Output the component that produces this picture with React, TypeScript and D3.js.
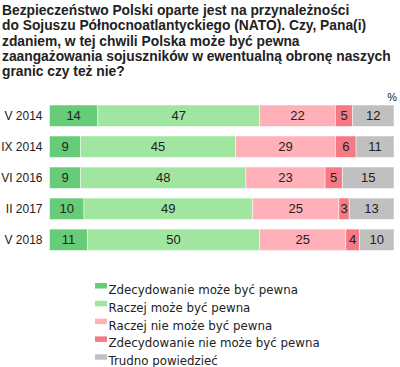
import React, { useEffect, useRef } from 'react';
import * as d3 from 'd3';

const titleLines = [
  'Bezpieczeństwo Polski oparte jest na przynależności',
  'do Sojuszu Północnoatlantyckiego (NATO). Czy, Pana(i)',
  'zdaniem, w tej chwili Polska może być pewna',
  'zaangażowania sojuszników w ewentualną obronę naszych',
  'granic czy też nie?',
];

const categories = ['V 2014', 'IX 2014', 'VI 2016', 'II 2017', 'V 2018'];
const seriesNames = [
  'Zdecydowanie może być pewna',
  'Raczej może być pewna',
  'Raczej nie może być pewna',
  'Zdecydowanie nie może być pewna',
  'Trudno powiedzieć',
];
const definitelyYes = [14, 9, 9, 10, 11];
const ratherYes = [47, 45, 48, 49, 50];
const ratherNo = [22, 29, 23, 25, 25];
const definitelyNo = [5, 6, 5, 3, 4];
const hardToSay = [12, 11, 15, 13, 10];
const colors = ['#66cc77', '#a0e6a0', '#ffb0b8', '#f57a85', '#c0c0c0'];

export default function App() {
  const svgRef = useRef<SVGSVGElement>(null);
  const width = 400;
  const height = 367;

  function draw(elm: SVGSVGElement) {
    const svg = d3.select(elm);
    svg.selectAll('*').remove();

    const title = svg.append('text')
      .attr('font-family', 'Liberation Sans, Arial, sans-serif')
      .attr('font-size', '13.8px')
      .attr('font-weight', 'bold')
      .attr('fill', '#222');
    titleLines.forEach((l, i) => {
      title.append('tspan').attr('x', 2).attr('y', 15 + i * 15.3).text(l);
    });

    const table = categories.map((c, i) => ({
      cat: c,
      s0: definitelyYes[i],
      s1: ratherYes[i],
      s2: ratherNo[i],
      s3: definitelyNo[i],
      s4: hardToSay[i],
    }));
    const keys = ['s0', 's1', 's2', 's3', 's4'];
    const stacked = d3.stack<any>().keys(keys)(table);

    const x = d3.scaleLinear().domain([0, 100]).range([49.5, 394]);
    const y = d3.scaleBand().domain(categories).range([105, 250.5]).paddingInner(0.31);

    const g = svg.append('g');
    stacked.forEach((layer, li) => {
      const grp = g.append('g');
      grp.selectAll('rect')
        .data(layer)
        .enter()
        .append('rect')
        .attr('x', d => x(d[0]))
        .attr('y', (d: any) => y(d.data.cat)!)
        .attr('width', d => x(d[1]) - x(d[0]))
        .attr('height', y.bandwidth())
        .attr('fill', colors[li])
        .attr('stroke', 'rgba(255,255,255,0.6)')
        .attr('stroke-width', 0.8);
      grp.selectAll('text')
        .data(layer)
        .enter()
        .append('text')
        .attr('x', d => (x(d[0]) + x(d[1])) / 2)
        .attr('y', (d: any) => y(d.data.cat)! + y.bandwidth() / 2 + 4.5)
        .attr('text-anchor', 'middle')
        .attr('font-family', 'Liberation Sans, Arial, sans-serif')
        .attr('font-size', '13px')
        .attr('fill', '#222')
        .text(d => d[1] - d[0]);
    });

    svg.append('g')
      .selectAll('text')
      .data(categories)
      .enter()
      .append('text')
      .attr('x', 42.5)
      .attr('y', d => y(d)! + y.bandwidth() / 2 + 4.5)
      .attr('text-anchor', 'end')
      .attr('font-family', 'Liberation Sans, Arial, sans-serif')
      .attr('font-size', '12px')
      .attr('fill', '#222')
      .text(d => d);

    svg.append('text')
      .attr('x', 397)
      .attr('y', 101)
      .attr('text-anchor', 'end')
      .attr('font-family', 'Liberation Sans, Arial, sans-serif')
      .attr('font-size', '11px')
      .attr('fill', '#222')
      .text('%');

    const legend = svg.append('g');
    seriesNames.forEach((name, i) => {
      const row = legend.append('g').attr('transform', 'translate(95,' + (283 + i * 17.8) + ')');
      row.append('rect')
        .attr('x', 0)
        .attr('y', 0)
        .attr('width', 12)
        .attr('height', 5.5)
        .attr('fill', colors[i]);
      row.append('text')
        .attr('x', 13.5)
        .attr('y', 11)
        .attr('font-family', 'DejaVu Sans, Verdana, sans-serif')
        .attr('font-size', '11.8px')
        .attr('fill', '#222')
        .text(name);
    });
  }

  useEffect(() => {
    if (svgRef.current) {
      draw(svgRef.current);
    }
  }, []);

  return (
    <svg
      ref={svgRef}
      width={width}
      height={height}
      style={{ position: 'absolute', left: 0, top: 0, background: '#fff' }}
    ></svg>
  );
}
